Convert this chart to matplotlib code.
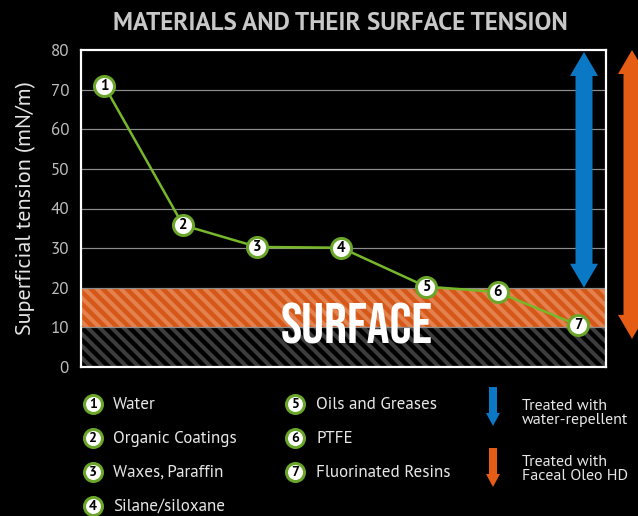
import matplotlib
matplotlib.use("Agg")
import matplotlib.pyplot as plt
from matplotlib import font_manager as fm
from matplotlib.patches import Polygon

# --- data ---
MATERIALS = ["Water", "Organic Coatings", "Waxes, Paraffin", "Silane/siloxane",
             "Oils and Greases", "PTFE", "Fluorinated Resins"]
X_POS = [0.31, 1.36, 2.35, 3.47, 4.6, 5.56, 6.63]
TENSION = [71, 35.8, 30.3, 30.1, 20.3, 18.9, 10.5]
SURFACE_BAND = (10, 20)
BASE_BAND = (0, 10)
Y_TICKS = [0, 10, 20, 30, 40, 50, 60, 70, 80]
TREATMENTS = ["Treated with\nwater-repellent", "Treated with\nFaceal Oleo HD"]
TREAT_RANGE = [(20, 79.5), (7.1, 80)]   # blue inside, orange outside the frame

BG = "black"
GREEN = "#76b82a"
GREEN_EDGE = "#6aa62a"
BLUE = "#0a78c4"
ORANGE = "#e55c14"
BAND_ORANGE = "#d65819"
BAND_STRIPE = "#e3814f"
DARK_STRIPE = "#3d3d3d"


def pick(*names):
    for n in names:
        try:
            fm.findfont(fm.FontProperties(family=n), fallback_to_default=False)
            return [n, "DejaVu Sans"]
        except ValueError:
            continue
    return ["DejaVu Sans"]


BODY = pick("PT Sans", "Fira Sans", "Open Sans")
DISPLAY = pick("Bebas Neue", "Oswald", "Fjalla One", "Roboto Condensed")

plt.rcParams["hatch.linewidth"] = 4.0

DPI = 72
fig = plt.figure(figsize=(638 / DPI, 516 / DPI), dpi=DPI, facecolor=BG)
ax = fig.add_axes([81 / 638, 149 / 516, 525 / 638, 317 / 516], facecolor=BG)
ax.set_xlim(0, 7)
ax.set_ylim(0, 80)
XPX = 7 / 525   # data units per pixel
YPX = 80 / 317

# bands
ax.axhspan(*SURFACE_BAND, facecolor=BAND_ORANGE, edgecolor=BAND_STRIPE,
           hatch="\\\\", linewidth=0, zorder=1)
ax.axhspan(*BASE_BAND, facecolor=BG, edgecolor=DARK_STRIPE,
           hatch="\\\\", linewidth=0, zorder=1)

for y in Y_TICKS[1:-1]:
    ax.axhline(y, color="#8c8c8c", lw=1.2, zorder=1.5)

for s in ax.spines.values():
    s.set_color("white")
    s.set_linewidth(2.2)
    s.set_zorder(5)

ax.set_xticks([])
ax.set_yticks(Y_TICKS)
ax.tick_params(axis="y", length=0, pad=12, labelsize=17, labelcolor="#bdbdbd")
for lab in ax.get_yticklabels():
    lab.set_family(BODY)
ax.set_ylabel("Superficial tension (mN/m)", color="#e6e6e6", fontsize=22,
              family=BODY, labelpad=14)

ax.text(3.67, 6.0, "SURFACE", color="white", fontsize=57,
        family=DISPLAY, ha="center", va="baseline", zorder=3)

# series
ax.plot(X_POS, TENSION, color=GREEN, lw=2.5, zorder=4)
ax.plot(X_POS, TENSION, "o", ms=20, mfc="white", mec=GREEN_EDGE, mew=3,
        zorder=4, clip_on=False)
for i, (x, y) in enumerate(zip(X_POS, TENSION), start=1):
    ax.text(x, y, str(i), ha="center", va="center", fontsize=15,
            fontweight="bold", color="black", family=BODY, zorder=6)


def double_arrow(a, xc, y0, y1, shaft_w, head_w, head_l, color):
    v = [(xc, y1), (xc + head_w / 2, y1 - head_l), (xc + shaft_w / 2, y1 - head_l),
         (xc + shaft_w / 2, y0 + head_l), (xc + head_w / 2, y0 + head_l), (xc, y0),
         (xc - head_w / 2, y0 + head_l), (xc - shaft_w / 2, y0 + head_l),
         (xc - shaft_w / 2, y1 - head_l), (xc - head_w / 2, y1 - head_l)]
    a.add_patch(Polygon(v, closed=True, facecolor=color, edgecolor="none",
                        zorder=4, clip_on=False))


def down_arrow(a, xc, ytop, ybot, shaft_w, head_w, head_l, color):
    v = [(xc - shaft_w / 2, ytop), (xc + shaft_w / 2, ytop),
         (xc + shaft_w / 2, ybot - head_l), (xc + head_w / 2, ybot - head_l),
         (xc, ybot), (xc - head_w / 2, ybot - head_l), (xc - shaft_w / 2, ybot - head_l)]
    a.add_patch(Polygon(v, closed=True, facecolor=color, edgecolor="none"))


arrow_x = [(584 - 81) * XPX, (632 - 81) * XPX]
for xc, (lo, hi), col in zip(arrow_x, TREAT_RANGE, [BLUE, ORANGE]):
    double_arrow(ax, xc, lo, hi, 17 * XPX, 28 * XPX, 24 * YPX, col)

# title
fig.text(340 / 638, 1 - 23 / 516, "MATERIALS AND THEIR SURFACE TENSION",
         color="#c8c8c8", fontsize=25, fontweight="bold", family=BODY,
         ha="center", va="center")

# legend, drawn in pixel coordinates
lg = fig.add_axes([0, 0, 1, 1], facecolor="none")
lg.set_xlim(0, 638)
lg.set_ylim(516, 0)
lg.axis("off")
rows = [404, 438, 472, 506]
cols = [(93, 113), (295, 316)]
for i, name in enumerate(MATERIALS):
    cx, tx = cols[0] if i < 4 else cols[1]
    cy = rows[i % 4] if i < 4 else rows[i - 4]
    lg.plot(cx, cy, "o", ms=18, mfc="white", mec=GREEN_EDGE, mew=3)
    lg.text(cx, cy, str(i + 1), ha="center", va="center", fontsize=14,
            fontweight="bold", color="black", family=BODY)
    lg.text(tx, cy + 1, name, ha="left", va="center", fontsize=17,
            color="#e8e8e8", family=BODY)

for (ytop, ybot, ty), col, label in zip([(387, 426, 413), (448, 487, 469)],
                                        [BLUE, ORANGE], TREATMENTS):
    down_arrow(lg, 493, ytop, ybot, 8, 14, 13, col)
    lg.text(522, ty, label, ha="left", va="center", fontsize=16,
            color="#e8e8e8", family=BODY, linespacing=1.0)

fig.savefig("out.png", dpi=DPI, facecolor=BG)
